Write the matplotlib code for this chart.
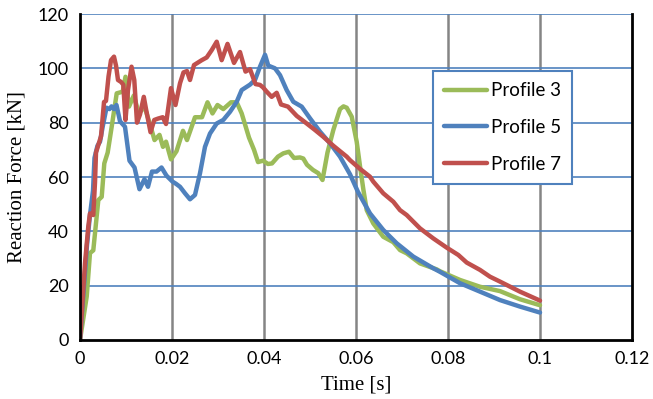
import matplotlib
matplotlib.use("Agg")
import matplotlib.pyplot as plt
import numpy as np

# Time in ms, force in kN
t3_ms = [0, 1.46, 2.17, 2.89, 3.26, 3.98, 4.72, 5.28, 6.02, 6.89,
         7.98, 9.28, 9.89, 10.65, 11.70, 12.78, 14.02, 15.11, 16.20, 17.28,
         18.04, 18.70, 19.78, 20.98, 22.39, 23.26, 25.00, 26.52, 27.72, 28.80,
         29.89, 31.15, 32.83, 34.07, 35.15, 36.74, 37.83, 38.70, 39.78, 40.87,
         41.74, 43.04, 44.20, 45.43, 46.52, 47.83, 48.54, 49.35, 50.65, 51.80,
         52.72, 53.80, 55.07, 56.52, 57.28, 57.98, 59.07, 60.15, 60.87, 61.59,
         62.33, 63.76, 65.93, 68.11, 69.57, 71.02, 73.91, 77.54, 78.26, 82.61,
         86.96, 91.30, 95.65, 100.0]
f3 = [0, 16, 32, 33, 39.3, 51.5, 52.7, 65, 69, 78.5,
      90.8, 91.4, 96.9, 85.9, 90, 83.4, 85.9, 80, 73.6, 75.5,
      71.1, 73, 66.5, 69.5, 77, 73.6, 82, 82, 87.5, 83.4,
      86.5, 85, 87.5, 87.5, 83.4, 74.5, 70, 65.5, 66, 64.8,
      65, 67.5, 68.7, 69.3, 67, 67.2, 66.8, 64.5, 62.6, 61.4,
      58.9, 69, 77.3, 85, 86, 85.5, 82.2, 73, 64, 55.5,
      47.8, 42.9, 38, 36, 33.1, 31.9, 28.2, 26.0, 25.3, 22.1,
      19.6, 18, 15, 12.8]

t5_ms = [0, 0.87, 1.52, 2.17, 2.83, 3.15, 3.80, 4.35, 4.93, 5.76,
         6.41, 6.85, 7.39, 7.93, 8.70, 9.78, 10.76, 11.85, 12.93, 14.02,
         14.78, 15.65, 16.63, 17.72, 18.80, 20.11, 20.87, 21.74, 22.83, 23.91,
         25.00, 26.09, 27.17, 28.26, 29.72, 31.15, 32.61, 34.07, 35.15, 36.96,
         38.04, 39.13, 40.22, 40.93, 42.39, 43.48, 44.93, 46.37, 48.20, 50.00,
         52.17, 54.35, 56.52, 58.70, 60.43, 63.04, 65.93, 68.85, 72.46, 76.80,
         78.26, 82.61, 86.96, 91.30, 95.65, 100.0]
f5 = [0, 20, 35, 46, 55, 67, 71.5, 73, 78.5, 85.5,
      85, 86, 85, 86.5, 80.5, 78.5, 66, 63.5, 55.5, 59.2,
      56.4, 62, 62, 63.5, 60.5, 58.3, 57.5, 56.4, 54, 51.8,
      53.4, 61.4, 71.1, 76, 79.7, 81, 84, 87.7, 92, 94,
      95.7, 100.6, 105, 101, 100, 97.5, 92, 87.7, 85.9, 81.6,
      76.7, 72.4, 67.5, 61, 54.5, 46.6, 40.5, 35.6, 30.7, 26.4,
      25.1, 20.9, 17.8, 14.7, 12.3, 10.1]

t7_ms = [0, 1.09, 1.80, 2.17, 2.89, 3.26, 3.48, 4.57, 5.22, 5.65,
         6.20, 6.74, 7.39, 7.83, 8.26, 8.91, 9.41, 9.89, 10.43, 11.20,
         11.80, 12.39, 13.04, 13.87, 14.35, 15.33, 16.15, 16.96, 17.98, 18.70,
         19.78, 20.76, 21.74, 22.50, 23.26, 23.91, 24.78, 26.46, 27.54, 28.63,
         29.72, 30.80, 32.07, 33.48, 34.78, 35.98, 36.96, 38.15, 39.13, 39.78,
         40.59, 41.67, 42.76, 43.70, 45.22, 47.11, 49.28, 51.09, 52.89, 55.07,
         56.52, 57.98, 58.70, 60.87, 63.04, 63.76, 65.93, 68.11, 69.57, 71.02,
         73.91, 76.80, 79.72, 82.24, 84.07, 86.96, 89.13, 91.30, 95.65, 100.0]
f7 = [0, 28.3, 41.7, 46.6, 46, 58, 69, 75, 87.6, 88,
      97, 103, 104.3, 101, 95.7, 95, 94, 81, 92, 100.6,
      95.7, 80, 83, 89.5, 85, 76.5, 81, 81.5, 82, 79.5,
      92.7, 86.5, 94.5, 98.5, 99, 95.7, 101.2, 103, 104, 106.7,
      109.8, 103, 109, 102, 106, 98.8, 99.7, 94.2, 93.9, 93,
      91.4, 89.5, 91, 86.7, 85.9, 82.5, 79.7, 77.3, 74.8, 71.5,
      69.5, 67.5, 66.2, 63, 60.1, 58.3, 54, 50.9, 47.8, 46,
      41.1, 37.4, 34, 31.3, 28.5, 25.8, 23.3, 21.5, 17.8, 14.5]

labels = ["Profile 3", "Profile 5", "Profile 7"]
colors = ["#9BBB59", "#4F81BD", "#C0504D"]
xticks = [0, 0.02, 0.04, 0.06, 0.08, 0.1, 0.12]
xticklabels = ["0", "0.02", "0.04", "0.06", "0.08", "0.1", "0.12"]
yticks = [0, 20, 40, 60, 80, 100, 120]

fig = plt.figure(figsize=(6.53, 3.99), dpi=100)
ax = fig.add_axes([80/653, 59/399, 552/653, 326/399])

series = [(t3_ms, f3), (t5_ms, f5), (t7_ms, f7)]
for (t, f), lab, c in zip(series, labels, colors):
    ax.plot(np.array(t) / 1000.0, f, color=c, lw=3.2, label=lab,
            solid_joinstyle="round", solid_capstyle="round", zorder=3)

ax.set_xlim(0, 0.12)
ax.set_ylim(0, 120)
ax.set_xticks(xticks)
ax.set_xticklabels(xticklabels)
ax.set_yticks(yticks)

for x in xticks[1:-1]:
    ax.axvline(x, color="#858585", lw=1.8, zorder=1)
for y in yticks[1:]:
    ax.axhline(y, color="#4F81BD", lw=1.2, zorder=1)

ax.spines["top"].set_visible(False)
for s in ["left", "bottom", "right"]:
    ax.spines[s].set_color("black")
    ax.spines[s].set_linewidth(2.0)
    ax.spines[s].set_zorder(4)

ax.tick_params(length=0, pad=8, labelsize=13)
for lbl in ax.get_xticklabels() + ax.get_yticklabels():
    lbl.set_fontfamily(["Lato", "DejaVu Sans"])

ax.set_xlabel("Time [s]", fontfamily="Liberation Serif", fontsize=15, labelpad=6)
ax.set_ylabel("Reaction Force [kN]", fontfamily="Liberation Serif", fontsize=15, labelpad=8)

leg = ax.legend(loc="upper left", bbox_to_anchor=(0.639, 0.825), frameon=True,
                fancybox=False, edgecolor="#4F81BD", framealpha=1,
                prop={"family": ["Lato", "DejaVu Sans"], "size": 13.5},
                handlelength=2.3, handletextpad=0.2, labelspacing=1.05,
                borderpad=0.6, borderaxespad=0)
leg.get_frame().set_linewidth(1.5)
leg.set_zorder(5)

fig.savefig("out.png", dpi=100)
